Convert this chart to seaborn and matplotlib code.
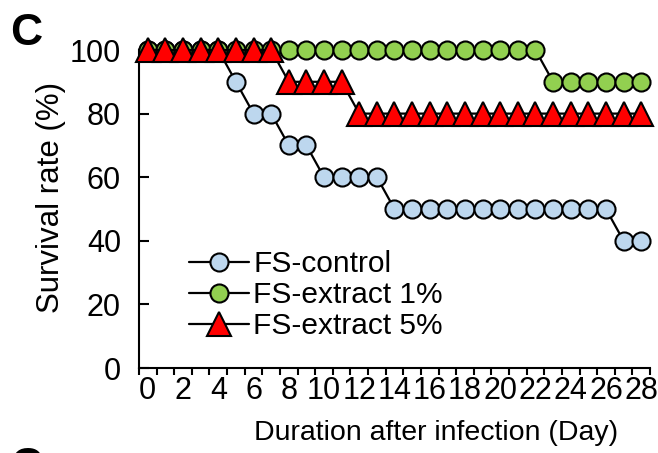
import numpy as np
import pandas as pd
import matplotlib
matplotlib.use("Agg")
import matplotlib.pyplot as plt
import seaborn as sns

days = list(range(0, 29))
control = [100, 100, 100, 100, 100, 90, 80, 80, 70, 70, 60, 60, 60, 60,
           50, 50, 50, 50, 50, 50, 50, 50, 50, 50, 50, 50, 50, 40, 40]
extract1 = [100] * 23 + [90] * 6
extract5 = [100] * 8 + [90] * 4 + [80] * 17
labels = ["FS-control", "FS-extract 1%", "FS-extract 5%"]
xtick_labels = [str(d) for d in range(0, 29, 2)]
yticks = [0, 20, 40, 60, 80, 100]

sns.set_style("ticks")
plt.rcParams['font.family'] = ['Liberation Sans', 'DejaVu Sans']
plt.rcParams['text.color'] = 'black'
plt.rcParams['axes.labelcolor'] = 'black'
plt.rcParams['xtick.color'] = 'black'
plt.rcParams['ytick.color'] = 'black'
plt.rcParams['axes.edgecolor'] = 'black'

fig = plt.figure(figsize=(6.58, 4.53), dpi=100)
ax = fig.add_axes([139/658, (453-368)/453, (650-139)/658, (368-50)/453])

df = pd.DataFrame({"day": days, "c": control, "e1": extract1, "e5": extract5})

common = dict(color="black", linewidth=1.6, markeredgecolor="black",
              markeredgewidth=1.5, clip_on=False, ax=ax)
sns.lineplot(data=df, x="day", y="c", marker="o", markersize=13,
             markerfacecolor="#BDD7EE", label=labels[0], zorder=3, **common)
sns.lineplot(data=df, x="day", y="e1", marker="o", markersize=13,
             markerfacecolor="#92D050", label=labels[1], zorder=4, **common)
sns.lineplot(data=df, x="day", y="e5", marker="^", markersize=17,
             markerfacecolor="#FF0000", label=labels[2], zorder=5, **common)

ax.set_xlim(-0.5, 28.5)
ax.set_ylim(0, 100)
ax.set_xticks(range(0, 29, 2))
ax.set_xticklabels(xtick_labels)
ax.set_xticks(np.arange(-0.5, 29, 1), minor=True)
ax.tick_params(axis="x", which="major", length=0, labelsize=22, pad=6)
ax.tick_params(axis="x", which="minor", length=5, width=1.5, direction="out")
ax.set_yticks(yticks)
ax.tick_params(axis="y", which="major", length=7, width=1.5, direction="in",
               labelsize=22, pad=13)
for s in ["top", "right"]:
    ax.spines[s].set_visible(False)
for s in ["left", "bottom"]:
    ax.spines[s].set_linewidth(1.5)

ax.set_xlabel("Duration after infection (Day)", fontsize=20.5)
ax.xaxis.set_label_coords((436-139)/511, -0.165)
ax.set_ylabel("Survival rate (%)", fontsize=22.5)
ax.yaxis.set_label_coords((66-139)/511, (368-197)/318)

leg = ax.legend(loc="upper left", bbox_to_anchor=((189-139)/511, (368-250)/318),
                frameon=False, fontsize=21.5, handlelength=2.0,
                handletextpad=0.15, labelspacing=0.1, borderpad=0,
                borderaxespad=0)

fig.text(10/658, (453-45)/453, "C", fontsize=32, fontweight="bold",
         ha="left", va="baseline")
fig.text(10/658, (453-479)/453, "C", fontsize=32, fontweight="bold",
         ha="left", va="baseline")

fig.savefig("out.png", dpi=100)
